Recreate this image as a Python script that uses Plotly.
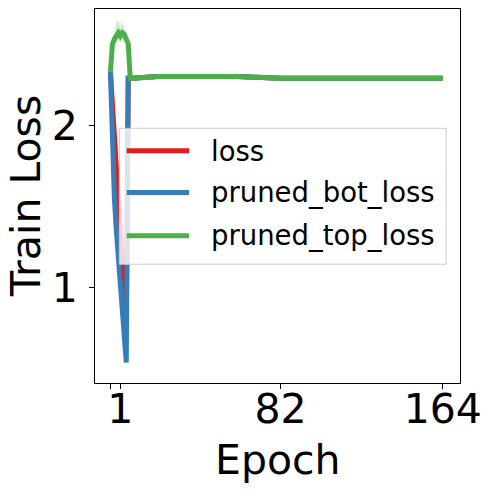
import plotly.graph_objects as go

# values
epochs = [-4, -3, -2, -1, 0, 1, 2, 3, 4, 5, 6, 7, 20, 40, 60, 82, 100, 120, 140, 164]
loss = [2.33, 2.15, 1.95, 1.75, 1.55, 1.35, 1.15, 0.95, 0.78, 2.29, 2.29, 2.29, 2.30, 2.30, 2.30, 2.29, 2.29, 2.29, 2.29, 2.29]
pruned_bot_loss = [2.33, 1.80, 1.55, 1.35, 1.17, 1.00, 0.85, 0.70, 0.54, 2.29, 2.29, 2.29, 2.30, 2.30, 2.30, 2.29, 2.29, 2.29, 2.29, 2.29]
pruned_top_loss = [2.33, 2.50, 2.53, 2.56, 2.57, 2.55, 2.57, 2.56, 2.53, 2.50, 2.29, 2.29, 2.30, 2.30, 2.30, 2.29, 2.29, 2.29, 2.29, 2.29]

# spread band of pruned_top_loss around its early peak
band_epochs = [-4, -3, -2, -1, 0, 1, 2, 3, 4, 5, 6]
top_upper = [2.33, 2.53, 2.58, 2.63, 2.65, 2.60, 2.64, 2.60, 2.56, 2.53, 2.29]
top_lower = [2.33, 2.46, 2.49, 2.51, 2.52, 2.51, 2.52, 2.52, 2.50, 2.47, 2.29]

names = ["loss", "pruned_bot_loss", "pruned_top_loss"]
colors = ["#e41a1c", "#377eb8", "#4daf4a"]

tick_vals = [-4, 1, 82, 164]
tick_text = ["", "1", "82", "164"]

fig = go.Figure()

fig.add_trace(go.Scatter(x=band_epochs, y=top_upper, mode="lines", line=dict(width=0),
                         hoverinfo="skip", showlegend=False))
fig.add_trace(go.Scatter(x=band_epochs, y=top_lower, mode="lines", line=dict(width=0),
                         fill="tonexty", fillcolor="rgba(77,175,74,0.25)",
                         hoverinfo="skip", showlegend=False))

for name, ys, c in zip(names, [loss, pruned_bot_loss, pruned_top_loss], colors):
    fig.add_trace(go.Scatter(x=epochs, y=ys, mode="lines", name=name,
                             line=dict(color=c, width=5), showlegend=False))

# legend drawn by hand so the keys are as long as in the original
fig.add_shape(type="rect", xref="paper", yref="paper", x0=0.0667, x1=0.962, y0=0.3176, y1=0.681,
              line=dict(color="#cccccc", width=1), fillcolor="rgba(255,255,255,0.8)", layer="above")
leg_y = [0.6208, 0.5095, 0.3934]
for name, c, yy in zip(names, colors, leg_y):
    fig.add_shape(type="line", xref="paper", yref="paper", x0=0.0869, x1=0.2578, y0=yy, y1=yy,
                  line=dict(color=c, width=5), layer="above")
    fig.add_annotation(x=0.3127, y=yy, xref="paper", yref="paper", text=name, showarrow=False,
                       xanchor="left", yanchor="middle", font=dict(size=27.5, color="black"))

# axis titles as annotations for exact placement
fig.add_annotation(x=0.5, y=-0.207, xref="paper", yref="paper", text="Epoch", showarrow=False,
                   xanchor="center", yanchor="middle", font=dict(size=41, color="black"))
fig.add_annotation(x=-0.189, y=0.5, xref="paper", yref="paper", text="Train Loss", showarrow=False,
                   textangle=-90, xanchor="center", yanchor="middle", font=dict(size=41, color="black"))

# the page body adds an 8px margin, so the figure is 8px smaller and shifted
fig.update_layout(
    width=483, height=483,
    margin=dict(l=87, r=31, t=1, b=108),
    plot_bgcolor="white", paper_bgcolor="white",
    font=dict(family="DejaVu Sans", size=41, color="black"),
    showlegend=False,
)
fig.update_xaxes(range=[-11.8, 172.7], tickvals=tick_vals, ticktext=tick_text, automargin=False,
                 showline=True, mirror=True, linecolor="black", linewidth=1, ticklabelstandoff=-15,
                 ticks="outside", ticklen=5, tickcolor="black", showgrid=False, zeroline=False)
fig.update_yaxes(range=[0.414, 2.716], tickvals=[1, 2], automargin=False,
                 showline=True, mirror=True, linecolor="black", linewidth=1, ticklabelstandoff=3,
                 ticks="outside", ticklen=5, tickcolor="black", showgrid=False, zeroline=False)

fig.write_html("out.html")
